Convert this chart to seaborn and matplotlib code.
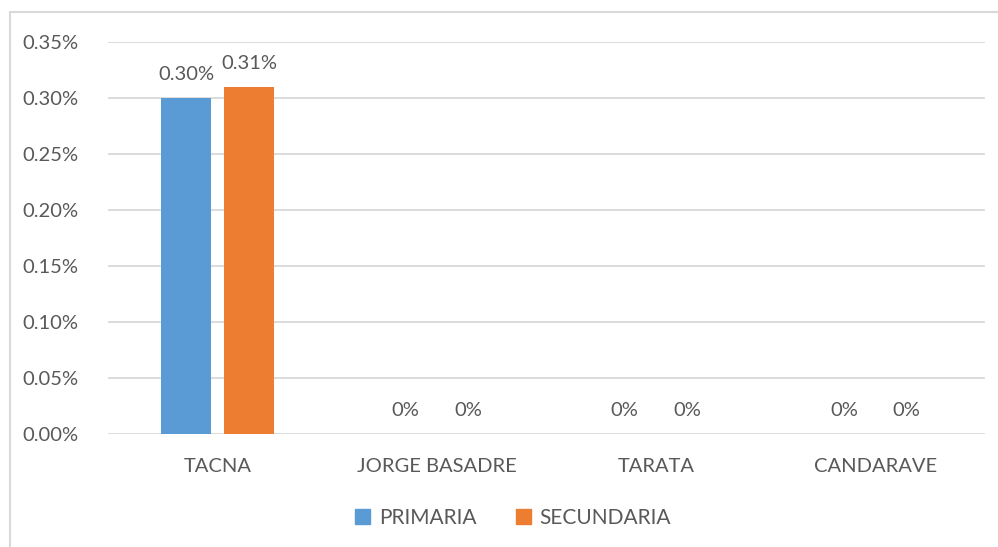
import matplotlib
matplotlib.use("Agg")
import matplotlib.pyplot as plt
import matplotlib.patches as mpatches
import seaborn as sns
import pandas as pd

categories = ["TACNA", "JORGE BASADRE", "TARATA", "CANDARAVE"]
primaria = [0.30, 0.0, 0.0, 0.0]
secundaria = [0.31, 0.0, 0.0, 0.0]
series_names = ["PRIMARIA", "SECUNDARIA"]
yticks = [0.00, 0.05, 0.10, 0.15, 0.20, 0.25, 0.30, 0.35]
colors = ["#5B9BD5", "#ED7D31"]

df = pd.DataFrame({
    "cat": categories * 2,
    "val": primaria + secundaria,
    "serie": [series_names[0]] * 4 + [series_names[1]] * 4,
})

sns.set_theme(style="white")
plt.rcParams["font.family"] = ["Lato", "DejaVu Sans"]
txt = "#595959"
fs = 14.5

fig = plt.figure(figsize=(9.98, 5.47), dpi=100)
ax = fig.add_axes([0.1082, 0.2066, 0.8788, 0.7166])

sns.barplot(data=df, x="cat", y="val", hue="serie", palette=colors,
            width=0.573, gap=0.2, ax=ax, legend=False, saturation=1,
            linewidth=0, edgecolor="none")

ax.set_ylim(0, 0.35)
ax.set_xlim(-0.5, 3.5)
ax.set_yticks(yticks)
ax.set_yticklabels([f"{v:.2f}%" for v in yticks], color=txt, fontsize=fs)
ax.set_xticks(range(len(categories)))
ax.set_xticklabels(categories, color=txt, fontsize=fs)
ax.tick_params(axis="both", length=0)
ax.tick_params(axis="y", pad=21)
ax.tick_params(axis="x", pad=17)
ax.set_xlabel("")
ax.set_ylabel("")
for s in ax.spines.values():
    s.set_visible(False)
ax.grid(axis="y", color="#D9D9D9", linewidth=1.3)
ax.set_axisbelow(True)

for container, vals in zip(ax.containers, [primaria, secundaria]):
    labels = [("0%" if v == 0 else f"{v:.2f}%") for v in vals]
    ax.bar_label(container, labels=labels, padding=11, color=txt, fontsize=fs)

# legend
handles = [mpatches.Patch(color=c, label=n) for c, n in zip(colors, series_names)]
leg = fig.legend(handles=handles, loc="center", bbox_to_anchor=(0.514, 0.053),
                 ncol=2, frameon=False, fontsize=15, handlelength=0.75,
                 handleheight=0.75, handletextpad=0.4, columnspacing=1.9)
for t in leg.get_texts():
    t.set_color(txt)

# chart border (clipped on right and bottom like reference)
fig.patches.append(mpatches.Rectangle((10 / 998, -0.05), 1.2, 1 - 12 / 547 + 0.05,
                                      transform=fig.transFigure, fill=False,
                                      edgecolor="#D9D9D9", linewidth=1.5))

fig.savefig("out.png", dpi=100)
